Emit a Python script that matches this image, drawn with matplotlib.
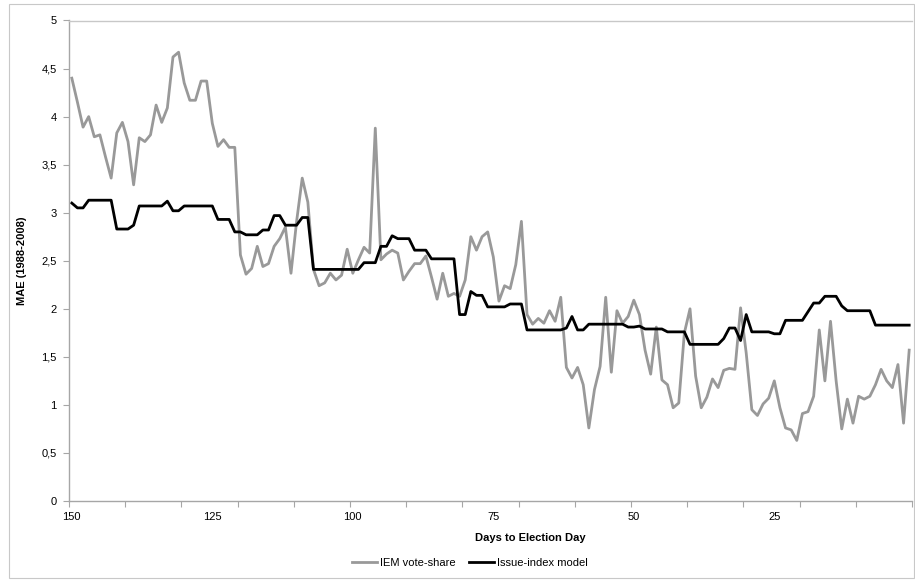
import matplotlib.pyplot as plt
from matplotlib.patches import Rectangle

plt.rcParams['font.family'] = ['Liberation Sans Narrow', 'Liberation Sans', 'DejaVu Sans']

# days to election, 150 down to 1
days = list(range(150, 0, -1))

iem_vote_share = [
    4.40, 4.15, 3.89, 4.00, 3.79, 3.81, 3.58, 3.36, 3.83, 3.94,
    3.74, 3.29, 3.78, 3.74, 3.81, 4.12, 3.94, 4.09, 4.62, 4.67,
    4.35, 4.17, 4.17, 4.37, 4.37, 3.93, 3.69, 3.76, 3.68, 3.68,
    2.56, 2.36, 2.42, 2.65, 2.44, 2.47, 2.65, 2.73, 2.85, 2.37,
    2.91, 3.36, 3.11, 2.41, 2.24, 2.27, 2.37, 2.30, 2.35, 2.62,
    2.37, 2.51, 2.64, 2.58, 3.88, 2.51, 2.57, 2.61, 2.58, 2.30,
    2.39, 2.47, 2.47, 2.55, 2.33, 2.10, 2.37, 2.13, 2.16, 2.13,
    2.30, 2.75, 2.61, 2.75, 2.80, 2.54, 2.08, 2.24, 2.21, 2.46,
    2.91, 1.94, 1.84, 1.90, 1.85, 1.98, 1.87, 2.12, 1.39, 1.28,
    1.39, 1.21, 0.76, 1.16, 1.40, 2.12, 1.34, 1.98, 1.85, 1.92,
    2.09, 1.94, 1.57, 1.32, 1.81, 1.26, 1.21, 0.97, 1.02, 1.75,
    2.00, 1.30, 0.97, 1.08, 1.27, 1.18, 1.36, 1.38, 1.37, 2.01,
    1.54, 0.95, 0.89, 1.01, 1.07, 1.25, 0.97, 0.76, 0.74, 0.63,
    0.91, 0.93, 1.09, 1.78, 1.25, 1.87, 1.25, 0.75, 1.06, 0.81,
    1.09, 1.06, 1.09, 1.21, 1.37, 1.25, 1.18, 1.42, 0.81, 1.57,
]

issue_index = [
    3.10, 3.05, 3.05, 3.13, 3.13, 3.13, 3.13, 3.13, 2.83, 2.83,
    2.83, 2.87, 3.07, 3.07, 3.07, 3.07, 3.07, 3.12, 3.02, 3.02,
    3.07, 3.07, 3.07, 3.07, 3.07, 3.07, 2.93, 2.93, 2.93, 2.80,
    2.80, 2.77, 2.77, 2.77, 2.82, 2.82, 2.97, 2.97, 2.87, 2.87,
    2.87, 2.95, 2.95, 2.41, 2.41, 2.41, 2.41, 2.41, 2.41, 2.41,
    2.41, 2.41, 2.48, 2.48, 2.48, 2.65, 2.65, 2.76, 2.73, 2.73,
    2.73, 2.61, 2.61, 2.61, 2.52, 2.52, 2.52, 2.52, 2.52, 1.94,
    1.94, 2.18, 2.14, 2.14, 2.02, 2.02, 2.02, 2.02, 2.05, 2.05,
    2.05, 1.78, 1.78, 1.78, 1.78, 1.78, 1.78, 1.78, 1.80, 1.92,
    1.78, 1.78, 1.84, 1.84, 1.84, 1.84, 1.84, 1.84, 1.84, 1.81,
    1.81, 1.82, 1.79, 1.79, 1.79, 1.79, 1.76, 1.76, 1.76, 1.76,
    1.63, 1.63, 1.63, 1.63, 1.63, 1.63, 1.69, 1.80, 1.80, 1.67,
    1.94, 1.76, 1.76, 1.76, 1.76, 1.74, 1.74, 1.88, 1.88, 1.88,
    1.88, 1.97, 2.06, 2.06, 2.13, 2.13, 2.13, 2.03, 1.98, 1.98,
    1.98, 1.98, 1.98, 1.83, 1.83, 1.83, 1.83, 1.83, 1.83, 1.83,
]

x_labels = [150, 125, 100, 75, 50, 25]
y_ticks = [0, 0.5, 1, 1.5, 2, 2.5, 3, 3.5, 4, 4.5, 5]

axis_grey = '#a6a6a6'

fig = plt.figure(figsize=(9.15, 5.82), dpi=100)
# chart area frame like Excel
fig.patches.append(Rectangle((9 / 915, 4 / 582), 905 / 915, 574 / 582,
                             transform=fig.transFigure, fill=False,
                             edgecolor='#c8c8c8', lw=0.8))

ax = fig.add_axes([69 / 915, 81 / 582, 843 / 915, 480.5 / 582])

ax.plot(days, iem_vote_share, color='#999999', lw=2.0, label='IEM vote-share')
ax.plot(days, issue_index, color='black', lw=2.0, label='Issue-index model')

ax.set_xlim(150.5, 0.5)
ax.set_ylim(0, 5)

# category ticks every 10 days, labels every 25
ax.set_xticks([150.5 - 10 * k for k in range(16)])
ax.set_xticklabels([])
ax.set_xticks(x_labels, minor=True)
ax.set_xticklabels([str(v) for v in x_labels], minor=True)
ax.tick_params(axis='x', which='major', length=4, color=axis_grey, direction='out')
ax.tick_params(axis='x', which='minor', length=0, pad=8, labelsize=8)

ax.set_yticks(y_ticks)
ax.set_yticklabels([('%g' % v).replace('.', ',') for v in y_ticks])
ax.tick_params(axis='y', length=4, color=axis_grey, labelsize=8, pad=5)

for side in ['left', 'bottom']:
    ax.spines[side].set_color(axis_grey)
    ax.spines[side].set_linewidth(1.0)
ax.spines['right'].set_visible(False)
ax.spines['top'].set_color('#c8c8c8')
ax.spines['top'].set_linewidth(1.0)

ax.set_ylabel('MAE (1988-2008)', fontsize=8, fontweight='bold', labelpad=10)
fig.text(530 / 915, 1 - 538 / 582, 'Days to Election Day', fontsize=8,
         fontweight='bold', ha='center', va='center')

fig.legend(loc='center', bbox_to_anchor=(470 / 915, 1 - 563 / 582), ncol=2,
           frameon=False, fontsize=8, handlelength=2.2, columnspacing=1.2,
           handletextpad=0.3)

fig.savefig('out.png', dpi=100)
